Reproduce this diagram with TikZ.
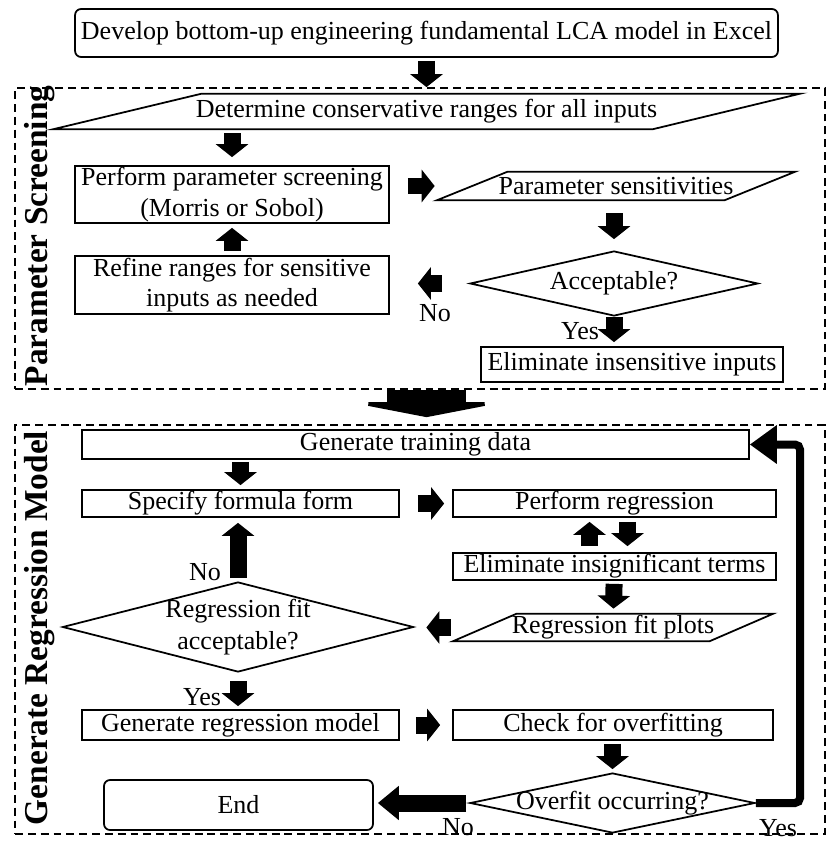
\documentclass[tikz,border=0pt]{standalone}
\usepackage{fontspec}
\setmainfont{Liberation Serif}
\usetikzlibrary{shapes.geometric,arrows.meta,calc}

\begin{document}
\begin{tikzpicture}[
    x=0.02cm, y=-0.02cm,
    every node/.style={font=\fontsize{14.8}{17.5}\selectfont, inner sep=0pt},
    box/.style={rectangle, draw, line width=1pt, align=center},
    roundbox/.style={box, rounded corners=0.12cm},
    iobox/.style={rectangle, align=center},
    decision/.style={diamond, draw, line width=1pt, align=center},
    frame/.style={rectangle, draw, line width=1pt, dash pattern=on 4.5pt off 2.8pt},
    slanted/.style={line width=1pt, line join=miter},
    section/.style={rotate=90, font=\fontsize{19}{22}\selectfont\bfseries},
    flow/.style={line width=0.34cm, -{Triangle[length=0.26cm, width=0.64cm]}},
    thickflow/.style={line width=0.34cm, -{Triangle[length=0.42cm, width=0.66cm]}},
    bigflow/.style={line width=1.58cm, -{Triangle[length=0.3cm, width=3.1cm]}},
    loopflow/.style={line width=0.16cm, rounded corners=0.1cm, -{Triangle[length=0.54cm, width=0.74cm]}}
]
    \useasboundingbox (0,0) rectangle (830,841);

    % Frames
    \node[frame, minimum width=16.2cm, minimum height=6.02cm] (screenframe) at (420,238.5) {};
    \node[frame, minimum width=16.2cm, minimum height=8.18cm] (regframe) at (420,629.5) {};
    \node[section] (screenlabel) at (40,236) {Parameter Screening};
    \node[section] (reglabel) at (40,628) {Generate Regression Model};

    % Start
    \node[roundbox, minimum width=14.06cm, minimum height=0.96cm] (topbox) at (426.5,33)
        {Develop bottom-up engineering fundamental LCA model in Excel};

    % Parameter screening
    \node[iobox, minimum width=14.94cm, minimum height=0.7cm] (ranges) at (426.5,111.5)
        {Determine conservative ranges for all inputs};
    \node[box, minimum width=6.28cm, minimum height=1.14cm] (screening) at (232,194.5)
        {Perform parameter screening\\(Morris or Sobol)};
    \node[box, minimum width=6.28cm, minimum height=1.16cm] (refine) at (232,285)
        {Refine ranges for sensitive\\inputs as needed};
    \node[iobox, minimum width=7.16cm, minimum height=0.56cm] (sens) at (616,186)
        {Parameter sensitivities};
    \node[decision, aspect=4.43, minimum width=5.76cm, minimum height=1.3cm] (accept) at (614,283.5)
        {Acceptable?};
    \node[box, minimum width=6.04cm, minimum height=0.7cm] (elim) at (632,364.5)
        {Eliminate insensitive inputs};
    \node (noA) at (435,313) {No};
    \node (yesA) at (580,331) {Yes};

    \draw[slanted] ($(ranges.north west)+(149,0)$) -- (ranges.north east)
        -- ($(ranges.south east)+(-148,0)$) -- (ranges.south west) -- cycle;
    \draw[slanted] ($(sens.north west)+(71,0)$) -- (sens.north east)
        -- ($(sens.south east)+(-71,0)$) -- (sens.south west) -- cycle;

    % Regression model
    \node[box, minimum width=13.34cm, minimum height=0.58cm] (train) at (415.5,444.5)
        {Generate training data};
    \node[box, minimum width=6.34cm, minimum height=0.54cm] (formula) at (240.5,503.5)
        {Specify formula form};
    \node[box, minimum width=6.46cm, minimum height=0.54cm] (regress) at (614.5,503.5)
        {Perform regression};
    \node[box, minimum width=6.46cm, minimum height=0.54cm] (insig) at (614.5,566.5)
        {Eliminate insignificant terms};
    \node[iobox, minimum width=6.4cm, minimum height=0.54cm] (fitplots) at (613,627.5)
        {Regression fit plots};
    \node[decision, aspect=3.9, inner xsep=-0.12cm, minimum width=7.02cm, minimum height=1.8cm,
        font=\fontsize{14.8}{18}\selectfont] (fitok) at (238,627)
        {Regression fit\\acceptable?};
    \node[box, minimum width=6.34cm, minimum height=0.6cm] (genmodel) at (240.5,725)
        {Generate regression model};
    \node[box, minimum width=6.4cm, minimum height=0.6cm] (check) at (613,725)
        {Check for overfitting};
    \node[decision, aspect=4.75, inner xsep=-0.32cm, minimum width=5.7cm, minimum height=1.2cm] (overfit) at (612.5,803)
        {Overfit occurring?};
    \node[roundbox, minimum width=5.38cm, minimum height=1.0cm] (endbox) at (238.5,805)
        {End};
    \node (noB) at (205,572) {No};
    \node (yesB) at (202,697) {Yes};
    \node (noC) at (458,827) {No};
    \node (yesC) at (778,828) {Yes};
    \coordinate (yesturn) at (800,444.5);

    \draw[slanted] ($(fitplots.north west)+(64,0)$) -- (fitplots.north east)
        -- ($(fitplots.south east)+(-64,0)$) -- (fitplots.south west) -- cycle;

    % Connections
    \draw[flow, shorten <=0.06cm] (topbox.south) -- (topbox.south |- screenframe.north);
    \draw[flow, shorten <=0.08cm, shorten >=0.16cm] (screening.north |- ranges.south) -- (screening.north);
    \draw[flow, shorten <=0.08cm, shorten >=0.08cm] (refine) -- (screening);
    \draw[flow, shorten <=0.36cm, shorten >=0.04cm] (screening.east |- sens.west) -- (sens.west);
    \draw[flow, shorten <=0.26cm, shorten >=0.22cm] (sens.south -| accept.north) -- (accept.north);
    \draw[flow, shorten <=0.54cm, shorten >=0.56cm] (accept.west) -- (refine.east |- accept.west);
    \draw[flow, shorten >=0.08cm] (accept.south) -- (accept.south |- elim.north);

    \draw[bigflow, shorten >=0.14cm] (topbox.south |- screenframe.south) -- (topbox.south |- regframe.north);

    \draw[flow, shorten <=0.04cm, shorten >=0.08cm] (formula.north |- train.south) -- (formula.north);
    \draw[flow, shorten <=0.36cm, shorten >=0.16cm] (formula) -- (regress);
    \draw[flow, shorten <=0.12cm, shorten >=0.08cm] ($(insig.north)+(-25,0)$) -- ($(regress.south)+(-25,0)$);
    \draw[flow, shorten <=0.08cm, shorten >=0.12cm] ($(regress.south)+(13,0)$) -- ($(insig.north)+(13,0)$);
    \draw[flow, shorten <=0.06cm, shorten >=0.10cm] (insig) -- (fitplots);
    \draw[flow, shorten <=0.04cm, shorten >=0.24cm] (fitplots.west) -- (fitok.east |- fitplots.west);
    \draw[flow, shorten <=0.06cm, shorten >=0.10cm] (fitok.north) -- (fitok.north |- formula.south);
    \draw[flow, shorten <=0.16cm, shorten >=0.06cm] (fitok.south) -- (fitok.south |- genmodel.north);
    \draw[flow, shorten <=0.32cm, shorten >=0.24cm] (genmodel) -- (check);
    \draw[flow, shorten <=0.06cm, shorten >=0.06cm] (check.south -| overfit.north) -- (overfit.north);
    \draw[thickflow, shorten <=0.06cm, shorten >=0.08cm] (overfit.west) -- (endbox.east |- overfit.west);
    \draw[loopflow] (overfit.east) -| (yesturn) -- (train.east);

\end{tikzpicture}
\end{document}
